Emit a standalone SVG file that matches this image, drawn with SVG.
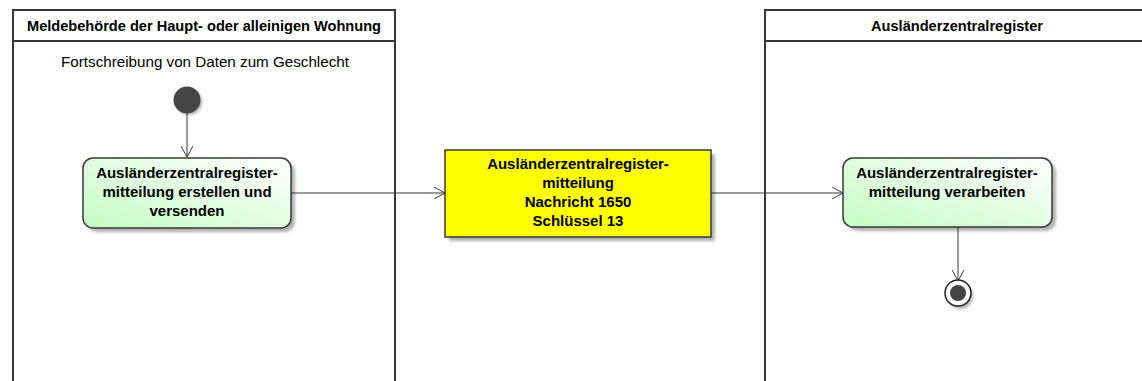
<svg xmlns="http://www.w3.org/2000/svg" width="1142" height="381" viewBox="0 0 1142 381">
<style>
.lane{fill:none;stroke:#383838;stroke-width:2}
.title{font-family:"Liberation Sans",Arial,sans-serif;font-size:14.6px;font-weight:bold;fill:#000;text-anchor:middle}
.act{font-family:"Liberation Sans",Arial,sans-serif;font-size:15px;font-weight:bold;fill:#000;text-anchor:middle}
.note{font-family:"Liberation Sans",Arial,sans-serif;font-size:15.2px;fill:#000;text-anchor:middle}
.box{stroke:#383838;stroke-width:1.5}
.shadow{fill:#000;opacity:0.3;filter:url(#blur)}
.edge{fill:none;stroke:#383838;stroke-width:1}
</style>
<defs>
<linearGradient id="green" x1="0" y1="1" x2="1" y2="0">
<stop offset="0" stop-color="#c4fcc4"/>
<stop offset="1" stop-color="#ffffff"/>
</linearGradient>
<filter id="blur" x="-10%" y="-10%" width="130%" height="130%"><feGaussianBlur stdDeviation="1.5"/></filter>
<marker id="arr" viewBox="0 0 12 12" refX="11" refY="6" markerWidth="12" markerHeight="12" markerUnits="userSpaceOnUse" orient="auto">
<path d="M0,0 L11,6 L0,12" fill="none" stroke="#383838" stroke-width="1"/>
</marker>
</defs>
<g id="lane-meldebehoerde">
<rect class="lane" x="13" y="10" width="382" height="380"/>
<line class="lane" x1="13" y1="41" x2="395" y2="41"/>
<text class="title" x="204" y="31">Meldebehörde der Haupt- oder alleinigen Wohnung</text>
<text class="note" x="205" y="67">Fortschreibung von Daten zum Geschlecht</text>
</g>
<g id="lane-azr">
<rect class="lane" x="765" y="10" width="390" height="380"/>
<line class="lane" x1="765" y1="41" x2="1142" y2="41"/>
<text class="title" x="957" y="31">Ausländerzentralregister</text>
</g>
<g id="connectors">
<line class="edge" x1="187" y1="113" x2="187" y2="157" marker-end="url(#arr)"/>
<line class="edge" x1="291" y1="193" x2="445" y2="193" marker-end="url(#arr)"/>
<line class="edge" x1="711" y1="193" x2="843" y2="193" marker-end="url(#arr)"/>
<line class="edge" x1="958" y1="227" x2="958" y2="281" marker-end="url(#arr)"/>
</g>
<g id="start">
<circle cx="189" cy="102" r="13" class="shadow"/>
<circle cx="187" cy="100" r="13.5" fill="#444"/>
</g>
<g id="act1">
<rect x="87" y="162" width="208" height="70" rx="10" class="shadow"/>
<rect x="83" y="158" width="208" height="70" rx="10" fill="url(#green)" class="box"/>
<text class="act" x="187" y="178">Ausländerzentralregister-</text>
<text class="act" x="187" y="197">mitteilung erstellen und</text>
<text class="act" x="187" y="216">versenden</text>
</g>
<g id="message">
<rect x="449" y="154" width="266" height="87" class="shadow"/>
<rect x="445" y="150" width="266" height="87" fill="#ffff00" class="box"/>
<text class="act" x="578" y="169">Ausländerzentralregister-</text>
<text class="act" x="578" y="188">mitteilung</text>
<text class="act" x="578" y="207">Nachricht 1650</text>
<text class="act" x="578" y="226">Schlüssel 13</text>
</g>
<g id="act2">
<rect x="847" y="162" width="209" height="69" rx="10" class="shadow"/>
<rect x="843" y="158" width="209" height="69" rx="10" fill="url(#green)" class="box"/>
<text class="act" x="947" y="178">Ausländerzentralregister-</text>
<text class="act" x="947" y="197">mitteilung verarbeiten</text>
</g>
<g id="end">
<circle cx="960" cy="296" r="13" class="shadow"/>
<circle cx="958" cy="293" r="13" fill="#fff" stroke="#222" stroke-width="1.5"/>
<circle cx="958" cy="293" r="8" fill="#444"/>
</g>
</svg>
